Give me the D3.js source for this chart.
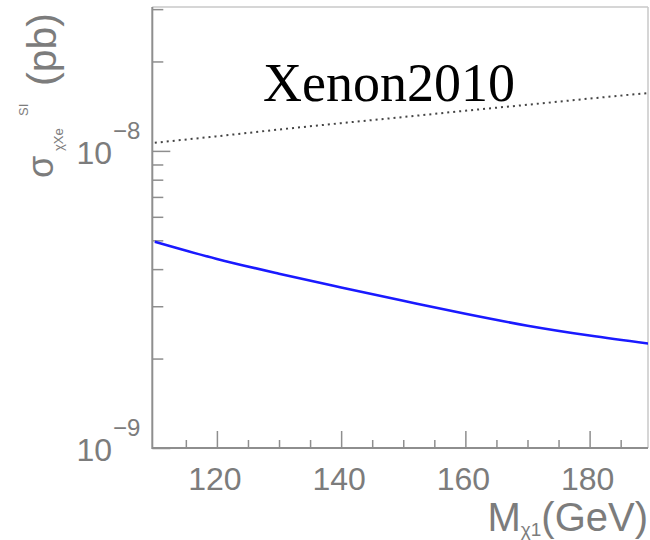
<!DOCTYPE html>
<html>
<head>
<meta charset="utf-8">
<script src="https://cdn.jsdelivr.net/npm/d3@7"></script>
<style>
  html, body { margin: 0; padding: 0; background: #fff; }
  svg { display: block; }
</style>
</head>
<body>
<svg id="chart" width="650" height="540"></svg>
<script>
// ---- data ----
const massValues    = [110, 120, 130, 140, 150, 160, 170, 180, 190];           // M_chi1 (GeV)
const xenonLimit    = [1.065e-8, 1.12e-8, 1.18e-8, 1.24e-8, 1.30e-8, 1.365e-8, 1.43e-8, 1.50e-8, 1.57e-8]; // dotted
const crossSection  = [4.95e-9, 4.33e-9, 3.86e-9, 3.47e-9, 3.13e-9, 2.83e-9, 2.58e-9, 2.39e-9, 2.24e-9];  // blue
const xMajorTicks   = [120, 140, 160, 180];
const xMinorTicks   = [115, 125, 130, 135, 145, 150, 155, 165, 170, 175, 185];
const yMajorTicks   = [1e-9, 1e-8];
const yMajorLabels  = [["10", "\u22129"], ["10", "\u22128"]];
const yMinorTicks   = [2e-9, 3e-9, 4e-9, 5e-9, 6e-9, 7e-9, 8e-9, 9e-9, 2e-8, 3e-8];
const titleText     = "Xenon2010";

// ---- layout ----
const svg = d3.select("#chart");
const L = 152.3, R = 648, T = 7, B = 448;
const x = d3.scaleLinear().domain([109.6, 189.4]).range([L, R]);
const y = d3.scaleLog().domain([1e-9, 3.05e-8]).range([B, T]);

const axisColor = "#8e8e8e";
const labelColor = "#7c7c7c";
const sans = "'Liberation Sans', Arial, Helvetica, sans-serif";

svg.append("defs").append("clipPath").attr("id", "plotclip")
  .append("rect").attr("x", L).attr("y", T).attr("width", R - L).attr("height", B - T);

// frame: top & right light
svg.append("line").attr("x1", L).attr("x2", R).attr("y1", T).attr("y2", T)
  .attr("stroke", "#c8c8c8").attr("stroke-width", 1.5);
svg.append("line").attr("x1", R).attr("x2", R).attr("y1", T).attr("y2", B)
  .attr("stroke", "#c8c8c8").attr("stroke-width", 1.5);

// y axis (left) with d3 axis
const yAxisMajor = d3.axisRight(y).tickValues(yMajorTicks).tickSize(18).tickFormat("");
const yAxisMinor = d3.axisRight(y).tickValues(yMinorTicks).tickSize(11).tickFormat("");
const gyM = svg.append("g").attr("transform", `translate(${L},0)`).call(yAxisMajor);
const gym = svg.append("g").attr("transform", `translate(${L},0)`).call(yAxisMinor);
[gyM, gym].forEach(g => {
  g.select(".domain").remove();
  g.selectAll(".tick line").attr("stroke", axisColor).attr("stroke-width", 1.5);
});

// x axis (bottom)
const xAxisMajor = d3.axisTop(x).tickValues(xMajorTicks).tickSize(17).tickFormat("");
const xAxisMinor = d3.axisTop(x).tickValues(xMinorTicks).tickSize(8).tickFormat("");
const gxM = svg.append("g").attr("transform", `translate(0,${B})`).call(xAxisMajor);
const gxm = svg.append("g").attr("transform", `translate(0,${B})`).call(xAxisMinor);
[gxM, gxm].forEach(g => {
  g.select(".domain").remove();
  g.selectAll(".tick line").attr("stroke", axisColor).attr("stroke-width", 1.5);
});

// axis lines
svg.append("line").attr("x1", L).attr("x2", L).attr("y1", T).attr("y2", B + 1)
  .attr("stroke", axisColor).attr("stroke-width", 2);
svg.append("line").attr("x1", L).attr("x2", R).attr("y1", B).attr("y2", B)
  .attr("stroke", axisColor).attr("stroke-width", 2);

// x tick labels
svg.selectAll("text.xlab").data(xMajorTicks).join("text")
  .attr("class", "xlab")
  .attr("x", d => x(d) - 2).attr("y", B + 42)
  .attr("text-anchor", "middle")
  .attr("font-family", sans).attr("font-size", 32).attr("fill", labelColor)
  .text(d => d);

// y tick labels 10^n
yMajorTicks.forEach((v, i) => {
  const yy = y(v);
  svg.append("text")
    .attr("x", 112).attr("y", yy + 13)
    .attr("text-anchor", "end")
    .attr("font-family", sans).attr("font-size", 32).attr("fill", labelColor)
    .text(yMajorLabels[i][0]);
  svg.append("text")
    .attr("x", 113).attr("y", yy - 12)
    .attr("text-anchor", "start")
    .attr("font-family", sans).attr("font-size", 24).attr("fill", labelColor)
    .text(yMajorLabels[i][1]);
});

// curves
const line = d3.line().x(d => x(d[0])).y(d => y(d[1])).curve(d3.curveMonotoneX);
const plot = svg.append("g").attr("clip-path", "url(#plotclip)");
plot.append("path")
  .datum(massValues.map((m, i) => [m, xenonLimit[i]]))
  .attr("d", line).attr("fill", "none")
  .attr("stroke", "#444").attr("stroke-width", 2)
  .attr("stroke-dasharray", "2,4");
plot.append("path")
  .datum(massValues.map((m, i) => [m, crossSection[i]]))
  .attr("d", line).attr("fill", "none")
  .attr("stroke", "#1a1aff").attr("stroke-width", 2.6);

// title
svg.append("text")
  .attr("x", 263).attr("y", 101)
  .attr("font-family", "'Liberation Serif', 'Times New Roman', serif")
  .attr("font-size", 54).attr("fill", "#000")
  .text(titleText);

// x axis title: M_chi1(GeV)
const xt = svg.append("text")
  .attr("x", 648).attr("y", 531)
  .attr("text-anchor", "end")
  .attr("font-family", sans).attr("fill", labelColor);
xt.append("tspan").attr("font-size", 40).text("M");
xt.append("tspan").attr("font-size", 19).attr("dy", 5).text("\u03c71");
xt.append("tspan").attr("font-size", 40).attr("dy", -5).text("(GeV)");

// y axis title: sigma_{chi Xe}^{SI} (pb), rotated
const yt = svg.append("g").attr("transform", "rotate(-90)")
  .attr("font-family", sans).attr("fill", labelColor);
yt.append("text").attr("x", -178).attr("y", 53).attr("font-size", 36).text("\u03c3");
yt.append("text").attr("x", -151).attr("y", 63).attr("font-size", 13).text("\u03c7Xe");
yt.append("text").attr("x", -116).attr("y", 28).attr("font-size", 13).text("SI");
yt.append("text").attr("x", -13).attr("y", 56).attr("text-anchor", "end").attr("font-size", 41).text("(pb)");
</script>
</body>
</html>
